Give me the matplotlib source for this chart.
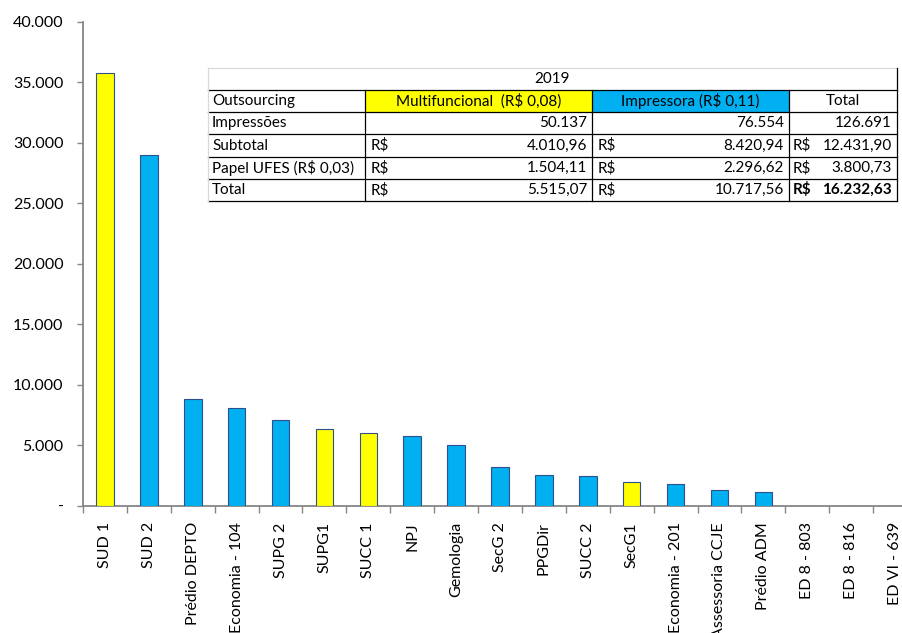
import matplotlib.pyplot as plt
from matplotlib.patches import Rectangle
from matplotlib.ticker import FixedLocator, FuncFormatter
import numpy as np

plt.rcParams["font.family"] = ["Lato", "DejaVu Sans"]
plt.rcParams["text.parse_math"] = False

# prints per location, 2019
locais = [
    "SUD 1", "SUD 2", "Prédio DEPTO", "Economia - 104", "SUPG 2", "SUPG1",
    "SUCC 1", "NPJ", "Gemologia", "SecG 2", "PPGDir", "SUCC 2", "SecG1",
    "Economia - 201", "Assessoria CCJE", "Prédio ADM", "ED 8 - 803",
    "ED 8 - 816", "ED VI - 639",
]
impressoes = [
    35800, 29000, 8850, 8070, 7050, 6360, 6000, 5780, 5030, 3210, 2515,
    2430, 1930, 1800, 1300, 1135, 0, 0, 0,
]
tipo = ["M", "I", "I", "I", "I", "M", "M", "I", "I", "I", "I", "I", "M",
        "I", "I", "I", "I", "I", "I"]

# summary table
ano = "2019"
cabecalho = ["Outsourcing", "Multifuncional  (R$ 0,08)", "Impressora (R$ 0,11)", "Total"]
linhas = ["Impressões", "Subtotal", "Papel UFES (R$ 0,03)", "Total"]
multifuncional = ["50.137", "4.010,96", "1.504,11", "5.515,07"]
impressora = ["76.554", "8.420,94", "2.296,62", "10.717,56"]
total = ["126.691", "12.431,90", "3.800,73", "16.232,63"]

AMARELO = "#FFFF00"
AZUL = "#00B0F0"
CINZA = "#868686"

W, H = 902, 633
fig = plt.figure(figsize=(W / 100, H / 100), dpi=100)


def px(x, y):
    return x / W, 1 - y / H


# axes spans past the right edge, the last category is cut off
ax_left, ax_right = 83, 917
ax_top, ax_bottom = 22, 505.5
ax = fig.add_axes([ax_left / W, 1 - ax_bottom / H,
                   (ax_right - ax_left) / W, (ax_bottom - ax_top) / H])

x = np.arange(len(locais))
cores = [AMARELO if t == "M" else AZUL for t in tipo]
ax.bar(x, impressoes, width=0.4, color=cores, edgecolor="#2F4F8F", linewidth=0.8,
       zorder=3)

ax.set_xlim(-0.5, len(locais) - 0.5)
ax.set_ylim(0, 40000)
ax.set_yticks(np.arange(0, 40001, 5000))
ax.yaxis.set_major_formatter(FuncFormatter(
    lambda v, _: "-" if v == 0 else f"{int(v):,}".replace(",", ".")))
ax.set_xticks(x)
ax.set_xticklabels(locais, rotation=90, va="top", ha="center")
ax.xaxis.set_minor_locator(FixedLocator(np.arange(len(locais) + 1) - 0.5))

for s in ["top", "right"]:
    ax.spines[s].set_visible(False)
for s in ["left", "bottom"]:
    ax.spines[s].set_color(CINZA)
    ax.spines[s].set_linewidth(1.3)

ax.tick_params(axis="y", length=4, width=1, color=CINZA, pad=10, labelsize=11.5,
               labelcolor="black")
ax.tick_params(axis="x", which="major", length=0, pad=12, labelsize=11.5)
ax.tick_params(axis="x", which="minor", length=5, width=1, color=CINZA)

# summary table drawn in pixel coordinates
cols = [208, 365, 592, 789, 897]
rows = [68, 90, 112, 134, 157, 179, 201]
tf = fig.transFigure
fs = 11


def cell_text(xp, yp, s, ha="left", bold=False):
    fig.text(*px(xp, yp), s, ha=ha, va="center", fontsize=fs,
             fontweight="bold" if bold else "normal", transform=tf)


def hline(y, x0, x1, color="black", lw=0.9):
    fig.add_artist(plt.Line2D([x0 / W, x1 / W], [1 - y / H, 1 - y / H],
                              color=color, lw=lw, transform=tf))


def vline(xp, y0, y1, color="black", lw=0.9):
    fig.add_artist(plt.Line2D([xp / W, xp / W], [1 - y0 / H, 1 - y1 / H],
                              color=color, lw=lw, transform=tf))


# white background under the table
fig.add_artist(Rectangle(px(cols[0], rows[-1]), (cols[-1] - cols[0]) / W,
                         (rows[-1] - rows[0]) / H, facecolor="white",
                         edgecolor="none", transform=tf, zorder=2))
fig.add_artist(Rectangle(px(cols[1], rows[2]), (cols[2] - cols[1]) / W,
                         (rows[2] - rows[1]) / H, facecolor=AMARELO,
                         edgecolor="none", transform=tf, zorder=2))
fig.add_artist(Rectangle(px(cols[2], rows[2]), (cols[3] - cols[2]) / W,
                         (rows[2] - rows[1]) / H, facecolor=AZUL,
                         edgecolor="none", transform=tf, zorder=2))

hline(rows[0], cols[0], cols[-1], color="#D9D9D9")
for r in rows[1:]:
    hline(r, cols[0], cols[-1])
vline(cols[0], rows[0], rows[-1], color="#D9D9D9")
vline(cols[-1], rows[0], rows[-1])
for c in cols[1:-1]:
    vline(c, rows[1], rows[-1])

mid = lambda i: (rows[i] + rows[i + 1]) / 2
cell_text((cols[0] + cols[-1]) / 2, mid(0), ano, ha="center")
cell_text(cols[0] + 4, mid(1), cabecalho[0])
for j in range(1, 4):
    cell_text((cols[j] + cols[j + 1]) / 2, mid(1), cabecalho[j], ha="center")

for i, nome in enumerate(linhas):
    r = mid(i + 2)
    negrito = nome == "Total"
    cell_text(cols[0] + 4, r, nome)
    for j, valores in enumerate([multifuncional, impressora, total]):
        c0, c1 = cols[j + 1], cols[j + 2]
        ultimo = negrito and j == 2
        if i > 0:
            cell_text(c0 + (6 if j < 2 else 4), r, "R$", bold=ultimo)
        cell_text(c1 - 5, r, valores[i], ha="right", bold=ultimo)

fig.savefig("out.png", dpi=100)
